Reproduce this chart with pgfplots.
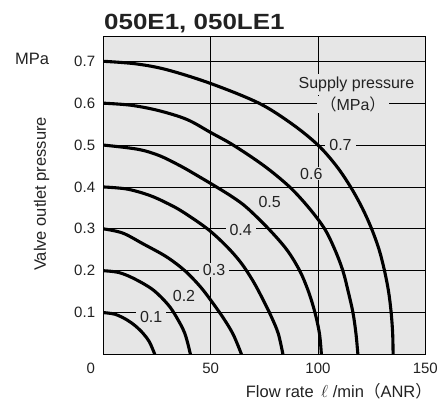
\documentclass[border=0pt]{standalone}
\usepackage{pgfplots}
\pgfplotsset{compat=1.18}
\usepackage{fontspec}
\setmainfont{Liberation Sans}
\newfontfamily\cjk{Noto Sans CJK JP}
\definecolor{bg}{HTML}{E6E6E6}
\definecolor{txt}{HTML}{222222}
\tikzset{
  lab/.style={fill=bg, inner xsep=4pt, inner ysep=1pt, font=\fontsize{16}{19}\selectfont, text=txt},
}
\pgfplotsset{
  curve/.style={black, line width=3.1pt, smooth, tension=0.55, mark=none},
}

\begin{document}
\begin{tikzpicture}
\useasboundingbox (-103.3pt,-46.5pt) rectangle (336.7pt,354.5pt);
\begin{axis}[
  at={(0pt,0pt)}, anchor=south west,
  scale only axis, width=322pt, height=317.5pt,
  xmin=0, xmax=150, ymin=0, ymax=0.758,
  axis background/.style={fill=bg},
  xtick={0,50,100,150},
  xticklabels={\makebox[0pt][r]{0\kern8.3pt},50,100,150},
  ytick={0.1,0.2,0.3,0.4,0.5,0.6,0.7},
  yticklabels={0.1,0.2,0.3,0.4,0.5,0.6,0.7},
  major tick length=0pt,
  grid=major,
  major grid style={black, line width=0.8pt},
  axis line style={black, line width=1pt},
  tick label style={font=\fontsize{15}{18}\selectfont, text=txt},
  yticklabel style={inner sep=0pt, anchor=east, xshift=-8pt},
  xticklabel style={inner sep=0pt, anchor=north, yshift=-8pt},
  xlabel={Flow rate\hspace{0.45em}$\ell$ /min{\cjk （}ANR{\cjk ）}},
  every axis x label/.style={at={(axis description cs:0.4422,-0.1339)}, anchor=base west, font=\fontsize{16.5}{20}\selectfont, text=txt, inner sep=0pt},
  ylabel={Valve outlet pressure},
  every axis y label/.style={at={(axis description cs:-0.178,0.5055)}, rotate=90, anchor=base, font=\fontsize{16.5}{20}\selectfont, text=txt, inner sep=0pt},
]
\node[lab] at (axis cs:110.5,0.5) {0.7};
\node[lab] at (axis cs:96.9,0.432) {0.6};
\node[lab] at (axis cs:77.5,0.365) {0.5};
\node[lab] at (axis cs:64,0.297) {0.4};
\node[lab] at (axis cs:51.6,0.202) {0.3};
\node[lab] at (axis cs:37.6,0.14) {0.2};
\node[lab] at (axis cs:22.3,0.09) {0.1};
\node[lab, inner ysep=3pt] at (axis cs:117.9,0.6455) {Supply pressure};
\node[lab] at (axis cs:116.3,0.597) {{\cjk （}MPa{\cjk ）}};

% supply 0.7
\addplot[curve] coordinates {(0,0.7) (15,0.694) (29.5,0.68) (50,0.647) (72.5,0.6) (88,0.55) (100,0.5) (108.6,0.45) (115.2,0.4) (120.6,0.35) (125,0.3) (128.5,0.25) (131,0.2) (132.9,0.15) (134.1,0.1) (134.8,0.05) (135,0)};
% supply 0.6
\addplot[curve] coordinates {(0,0.6) (13,0.595) (26,0.582) (39,0.561) (50,0.53) (60.5,0.5) (75,0.45) (86.8,0.4) (95.8,0.35) (103.1,0.3) (107.9,0.25) (111.6,0.2) (114.1,0.15) (116.3,0.1) (117.7,0.05) (118.6,0)};
% supply 0.5
\addplot[curve] coordinates {(0,0.5) (16,0.49) (26,0.475) (36,0.45) (44.5,0.425) (52.7,0.4) (60.5,0.375) (67,0.35) (77,0.3) (85.5,0.25) (91.5,0.2) (95.6,0.15) (98.6,0.1) (100.7,0.05) (101.6,0)};
% supply 0.4
\addplot[curve] coordinates {(0,0.4) (11,0.395) (21.5,0.38) (30.2,0.36) (37.2,0.34) (48.5,0.3) (57.1,0.26) (64,0.22) (69.8,0.175) (74.5,0.13) (78.3,0.09) (81.5,0.05) (83.7,0)};
% supply 0.3
\addplot[curve] coordinates {(0,0.3) (9,0.29) (18.6,0.264) (29.5,0.233) (38,0.2) (45,0.163) (50,0.13) (55.8,0.088) (60.5,0.048) (64.4,0)};
% supply 0.2
\addplot[curve] coordinates {(0,0.2) (7,0.196) (14,0.182) (23,0.155) (30,0.12) (34,0.09) (38,0.05) (40.6,0)};
% supply 0.1
\addplot[curve] coordinates {(0,0.1) (5.5,0.096) (10.9,0.083) (15,0.068) (18.6,0.05) (21.5,0.03) (24,0)};
\end{axis}
\node[anchor=base west, inner sep=0pt, font=\bfseries\fontsize{22}{26}\selectfont, text=txt] at (0.7pt,324.5pt) {\scalebox{1.18}[1]{050E1, 050LE1}};
\node[anchor=base west, inner sep=0pt, font=\fontsize{16.5}{20}\selectfont, text=txt] at (-88.3pt,289.5pt) {MPa};
\end{tikzpicture}
\end{document}
